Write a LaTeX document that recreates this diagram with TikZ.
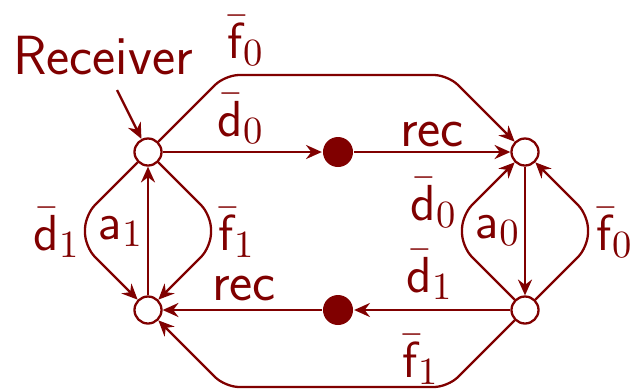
\documentclass[tikz,border=0pt]{standalone}
\usepackage{amsmath}
\usepackage{tikz}
\usetikzlibrary{arrows.meta,calc}
\definecolor{RcvRed}{HTML}{800000}

\begin{document}
\begin{tikzpicture}[x=0.01cm,y=-0.01cm, line width=0.65pt, RcvRed,
  font=\fontsize{15.7}{18}\selectfont\sffamily,
  state/.style={circle, draw, fill=white, minimum size=0.27cm, inner sep=0},
  sink/.style={circle, fill, minimum size=0.3cm, inner sep=0},
  edge/.style={-{Stealth[length=4.5pt,width=4pt,inset=1.5pt]}, rounded corners=4pt},
  lbl/.style={anchor=base, inner sep=0}]
\useasboundingbox (0,0) rectangle (633,390);
% places
\node[state] (tl) at (148,152) {};
\node[state] (bl) at (148,310) {};
\node[state] (tr) at (525,152) {};
\node[state] (br) at (525,310) {};
\node[sink] (up) at (338,152) {};
\node[sink] (down) at (338,310) {};
% straight moves
\draw[edge] (tl) -- (up);
\draw[edge] (up) -- (tr);
\draw[edge] (br) -- (down);
\draw[edge] (down) -- (bl);
\draw[edge] (bl) -- (tl);
\draw[edge] (tr) -- (br);
% outer moves
\draw[edge] (tl) -- ([shift={(77,-77)}]tl.center) -- ([shift={(-77,-77)}]tr.center) -- (tr);
\draw[edge] (br) -- ([shift={(-77,77)}]br.center) -- ([shift={(77,77)}]bl.center) -- (bl);
% side loops
\draw[edge] (tl) -- ([shift={(-63,63)}]tl.center) -- ([shift={(-63,-63)}]bl.center) -- (bl);
\draw[edge] (tl) -- ([shift={(63,63)}]tl.center) -- ([shift={(63,-63)}]bl.center) -- (bl);
\draw[edge] (br) -- ([shift={(-63,-63)}]br.center) -- ([shift={(-63,63)}]tr.center) -- (tr);
\draw[edge] (br) -- ([shift={(63,-63)}]br.center) -- ([shift={(63,63)}]tr.center) -- (tr);
% receiver mark
\node[lbl] (rcv) at (103,74) {Receiver};
\coordinate (rcvtail) at (117,90);
\draw[edge] (rcvtail) -- (tl);
% labels
\node[lbl] (lf0) at (246,58) {$\bar{\mathsf{f}}_0$};
\node[lbl] (ld0) at (241,136) {$\bar{\mathsf{d}}_0$};
\node[lbl] (lrec0) at (432,146) {rec};
\node[lbl] (ld1) at (57,250) {$\bar{\mathsf{d}}_1$};
\node[lbl] (la1) at (121,239) {$\mathsf{a}_1$};
\node[lbl] (lf1) at (237,250) {$\bar{\mathsf{f}}_1$};
\node[lbl] (lrec1) at (244,300) {rec};
\node[lbl] (ld0r) at (434,220) {$\bar{\mathsf{d}}_0$};
\node[lbl] (la0) at (498,238) {$\mathsf{a}_0$};
\node[lbl] (lf0r) at (615,250) {$\bar{\mathsf{f}}_0$};
\node[lbl] (ld1r) at (430,292) {$\bar{\mathsf{d}}_1$};
\node[lbl] (lf1b) at (421,377) {$\bar{\mathsf{f}}_1$};
\end{tikzpicture}
\end{document}
